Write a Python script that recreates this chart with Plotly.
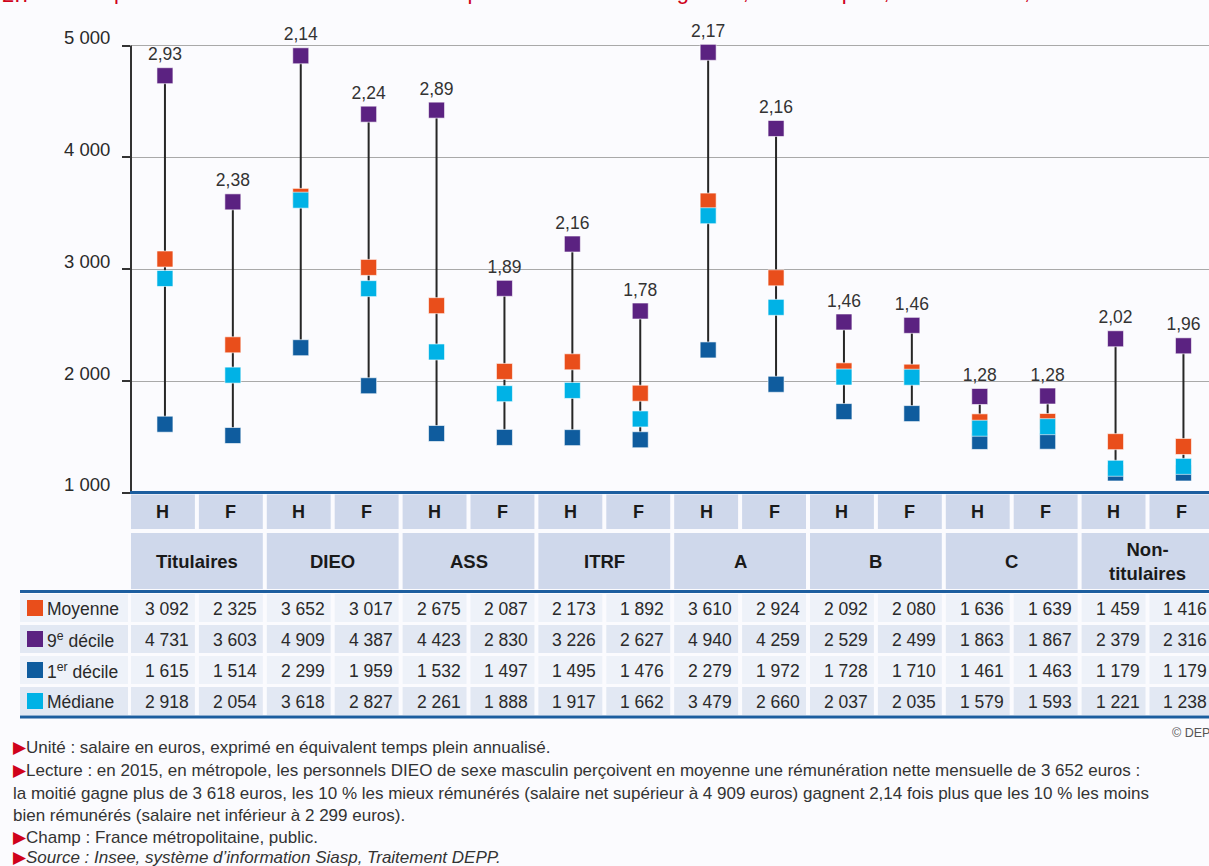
import plotly.graph_objects as go

# ---------------- data ----------------
groups = ["Titulaires", "DIEO", "ASS", "ITRF", "A", "B", "C", "Non-<br>titulaires"]
sexes = ["H", "F"]
moyenne = [3092, 2325, 3652, 3017, 2675, 2087, 2173, 1892, 3610, 2924, 2092, 2080, 1636, 1639, 1459, 1416]
decile9 = [4731, 3603, 4909, 4387, 4423, 2830, 3226, 2627, 4940, 4259, 2529, 2499, 1863, 1867, 2379, 2316]
decile1 = [1615, 1514, 2299, 1959, 1532, 1497, 1495, 1476, 2279, 1972, 1728, 1710, 1461, 1463, 1179, 1179]
mediane = [2918, 2054, 3618, 2827, 2261, 1888, 1917, 1662, 3479, 2660, 2037, 2035, 1579, 1593, 1221, 1238]
ratios = ["2,93", "2,38", "2,14", "2,24", "2,89", "1,89", "2,16", "1,78",
          "2,17", "2,16", "1,46", "1,46", "1,28", "1,28", "2,02", "1,96"]
yticks = [1000, 2000, 3000, 4000, 5000]
yticktext = ["1 000", "2 000", "3 000", "4 000", "5 000"]

row_labels = ["Moyenne", "9<sup>e</sup> décile", "1<sup>er</sup> décile", "Médiane"]
row_values = [moyenne, decile9, decile1, mediane]

C_MOY = "#e94e1b"
C_D9 = "#5b2281"
C_D1 = "#0f5c9e"
C_MED = "#00b2e6"
row_colors = [C_MOY, C_D9, C_D1, C_MED]

# ---------------- geometry ----------------
W, H = 1209, 866
L = 131            # plot left (px)
PW = W - L         # plot width
T = 23
PH = 470
Y0 = T + PH        # pixel of y=1000
PITCH = 67.9
n = len(moyenne)
xr0 = -0.5
xr1 = -0.5 + PW / PITCH
yr0, yr1 = 1000, 1000 + PH / 0.11185

FONT = "Liberation Sans Narrow, Arial Narrow, Liberation Sans, Arial, sans-serif"
BG = "#fbfbfe"
HDR = "#cfd8eb"
ROW_A = "#eef2f9"
ROW_B = "#e2e8f3"
BLUE = "#1c5e9f"
TXT = "#2a2a2a"


def xp(px):
    return (px - L) / PW


def yp(py):
    return (Y0 - py) / PH


def yv(v):
    return (v - yr0) / (yr1 - yr0)


xs = list(range(n))

fig = go.Figure()

# vertical lines D1 -> D9
lx, ly = [], []
for i in xs:
    lx += [i, i, None]
    ly += [decile1[i], decile9[i], None]
fig.add_trace(go.Scatter(x=lx, y=ly, mode="lines", line=dict(color="#262626", width=2),
                         hoverinfo="skip", showlegend=False))

mk = dict(symbol="square", size=16, line=dict(color="rgba(255,255,255,0.6)", width=1))
fig.add_trace(go.Scatter(x=xs, y=decile1, mode="markers", marker=dict(color=C_D1, **mk),
                         name="1er décile", showlegend=False))
fig.add_trace(go.Scatter(x=xs, y=moyenne, mode="markers", marker=dict(color=C_MOY, **mk),
                         name="Moyenne", showlegend=False))
fig.add_trace(go.Scatter(x=xs, y=mediane, mode="markers", marker=dict(color=C_MED, **mk),
                         name="Médiane", showlegend=False))
fig.add_trace(go.Scatter(x=xs, y=decile9, mode="markers+text", marker=dict(color=C_D9, **mk),
                         text=ratios, textposition="top center",
                         textfont=dict(family=FONT, size=17.5, color="#333333"),
                         name="9e décile", showlegend=False))

shapes = []
ann = []

# y axis line (1000 -> 5000)
shapes.append(dict(type="line", xref="paper", yref="paper", x0=0, x1=0,
                   y0=yv(1000), y1=yv(5000), line=dict(color="#333333", width=2)))

# top blue line
shapes.append(dict(type="line", xref="paper", yref="paper", x0=xp(L - 1), x1=xp(W + 20),
                   y0=yp(492.5), y1=yp(492.5), line=dict(color=BLUE, width=3)))

# H/F header row and group row
for c in range(n):
    x0 = L + c * PITCH
    x1 = x0 + PITCH - 4
    shapes.append(dict(type="rect", xref="paper", yref="paper", x0=xp(x0), x1=xp(x1),
                       y0=yp(529), y1=yp(494.5), fillcolor=HDR, line=dict(width=0), layer="below"))
    ann.append(dict(xref="paper", yref="paper", x=xp((x0 + x1) / 2), y=yp(512),
                    text="<b>%s</b>" % sexes[c % 2], showarrow=False,
                    font=dict(family=FONT, size=18, color="#1a1a1a"), xanchor="center", yanchor="middle"))
for g, name in enumerate(groups):
    x0 = L + 2 * g * PITCH
    x1 = x0 + 2 * PITCH - 4
    shapes.append(dict(type="rect", xref="paper", yref="paper", x0=xp(x0), x1=xp(x1),
                       y0=yp(589), y1=yp(533), fillcolor=HDR, line=dict(width=0), layer="below"))
    ann.append(dict(xref="paper", yref="paper", x=xp((x0 + x1) / 2), y=yp(561.5),
                    text="<b>%s</b>" % name, showarrow=False,
                    font=dict(family=FONT, size=18.5, color="#1a1a1a"), xanchor="center", yanchor="middle"))

# blue line under group row
shapes.append(dict(type="line", xref="paper", yref="paper", x0=xp(20), x1=xp(W + 20),
                   y0=yp(591.5), y1=yp(591.5), line=dict(color=BLUE, width=3)))

# data rows
rows_py = [(594, 622), (625, 653), (656, 684), (687, 715)]
for r, (ya, yb) in enumerate(rows_py):
    fill = ROW_A if r % 2 == 0 else ROW_B
    shapes.append(dict(type="rect", xref="paper", yref="paper", x0=xp(20), x1=xp(128),
                       y0=yp(yb), y1=yp(ya), fillcolor=fill, line=dict(width=0), layer="below"))
    cy = (ya + yb) / 2
    shapes.append(dict(type="rect", xref="paper", yref="paper", x0=xp(27), x1=xp(43),
                       y0=yp(cy + 8), y1=yp(cy - 8), fillcolor=row_colors[r], line=dict(width=0)))
    ann.append(dict(xref="paper", yref="paper", x=xp(45), y=yp(cy + 0.5), text=row_labels[r],
                    showarrow=False, font=dict(family=FONT, size=17.5, color=TXT),
                    xanchor="left", yanchor="middle"))
    for c in range(n):
        x0 = L + c * PITCH
        x1 = x0 + PITCH - 4
        shapes.append(dict(type="rect", xref="paper", yref="paper", x0=xp(x0), x1=xp(x1),
                           y0=yp(yb), y1=yp(ya), fillcolor=fill, line=dict(width=0), layer="below"))
        val = "{:,}".format(row_values[r][c]).replace(",", " ")
        ann.append(dict(xref="paper", yref="paper", x=xp(x1 - 4), y=yp(cy + 0.5), text=val,
                        showarrow=False, font=dict(family=FONT, size=17.5, color=TXT),
                        xanchor="right", yanchor="middle"))

# bottom blue line
shapes.append(dict(type="line", xref="paper", yref="paper", x0=xp(20), x1=xp(W + 20),
                   y0=yp(717), y1=yp(717), line=dict(color=BLUE, width=3)))

# copyright
ann.append(dict(xref="paper", yref="paper", x=xp(1170), y=yp(733), text="© DEPP", showarrow=False,
                font=dict(family=FONT, size=12.5, color="#555555"), xanchor="left", yanchor="middle"))

# footnotes
RED = "#d0021b"
bullet = "<span style='color:%s'>▶</span>" % RED
notes = [
    (747, bullet + "Unité : salaire en euros, exprimé en équivalent temps plein annualisé."),
    (771, bullet + "Lecture : en 2015, en métropole, les personnels DIEO de sexe masculin perçoivent en moyenne une rémunération nette mensuelle de 3 652 euros :"),
    (793, "la moitié gagne plus de 3 618 euros, les 10 % les mieux rémunérés (salaire net supérieur à 4 909 euros) gagnent 2,14 fois plus que les 10 % les moins"),
    (815, "bien rémunérés (salaire net inférieur à 2 299 euros)."),
    (837, bullet + "Champ : France métropolitaine, public."),
    (857, bullet + "<i>Source : Insee, système d’information Siasp, Traitement DEPP.</i>"),
]
for py, txt in notes:
    ann.append(dict(xref="paper", yref="paper", x=xp(11), y=yp(py), text=txt, showarrow=False,
                    font=dict(family=FONT, size=17, color="#333333"), xanchor="left", yanchor="middle"))

# cut-off title at the very top
TFONT = dict(family="Liberation Sans, Arial, sans-serif", size=22, color=RED)
ann.append(dict(xref="paper", yref="paper", x=xp(0), y=yp(9), text="2.7",
                showarrow=False, font=TFONT, xanchor="left", yanchor="bottom"))
ann.append(dict(xref="paper", yref="paper", x=xp(84), y=yp(6),
                text="Répartition du salaire net mensuel des personnels non enseignants, en métropole, selon le sexe, en 2015",
                showarrow=False, font=TFONT, xanchor="left", yanchor="bottom"))

fig.update_layout(
    width=W, height=H,
    margin=dict(l=L, r=0, t=T, b=H - T - PH, pad=0),
    paper_bgcolor=BG, plot_bgcolor=BG,
    showlegend=False,
    shapes=shapes, annotations=ann,
    xaxis=dict(range=[xr0, xr1], showgrid=False, zeroline=False, showticklabels=False,
               ticks="", showline=False, fixedrange=True),
    yaxis=dict(range=[yr0, yr1], tickvals=yticks, ticktext=yticktext, showgrid=True,
               gridcolor="#a9a9a9", gridwidth=1, zeroline=False, showline=False,
               ticks="outside", ticklen=8, tickwidth=1.5, tickcolor="#333333",
               ticklabelstandoff=8, ticklabelshift=-8,
               tickfont=dict(family=FONT, size=18.5, color=TXT), fixedrange=True),
)

fig.write_html("out.html", config={"displayModeBar": False},
               post_script="document.body.style.margin='0';")
